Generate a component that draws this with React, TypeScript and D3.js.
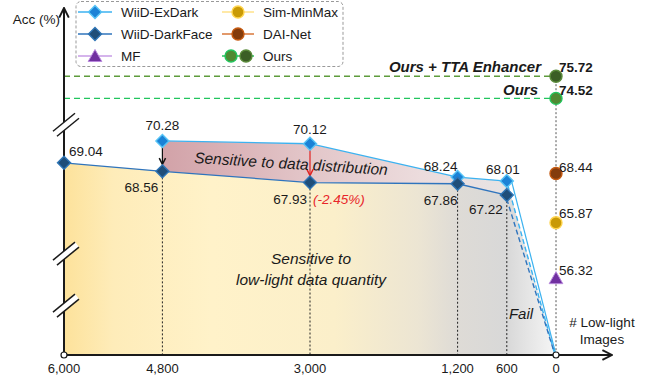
import React from 'react';
import * as d3 from 'd3';

// ---------- data ----------
const tickCounts = [6000, 4800, 3000, 1200, 600, 0];
const tickLabels = ['6,000', '4,800', '3,000', '1,200', '600', '0'];
const exDarkCounts = [4800, 3000, 1200, 600];
const exDarkAcc = [70.28, 70.12, 68.24, 68.01];
const darkFaceCounts = [6000, 4800, 3000, 1200, 600];
const darkFaceAcc = [69.04, 68.56, 67.93, 67.86, 67.22];
const failCount = 0;
const failAcc = 0;
const zeroCount = 0;
const baselineNames = ['Ours + TTA Enhancer', 'Ours', 'DAI-Net', 'Sim-MinMax', 'MF'];
const baselineAcc = [75.72, 74.52, 68.44, 65.87, 56.32];
const breakValues = [71.8, 60.3, 35.8];

// ---------- layout / style ----------
const W = 651;
const H = 381;
const FONT = '"Liberation Sans", Arial, sans-serif';
const x = d3.scaleLinear().domain([6000, 0]).range([64, 556]);
// broken (piece-wise) accuracy axis
const y = d3.scaleLinear()
  .domain([0, 56, 66, 67, 70.5, 74, 76])
  .range([355, 280, 222, 199, 137, 108, 71]);

const C = {
  exLine: '#3cb2f0', exFill: '#1b82d6', exStroke: '#57c4f6',
  dfLine: '#2f74bd', dfFill: '#1f4e79', dfStroke: '#2e75b6',
  mfFill: '#7030a0', mfStroke: '#b888dc', mfLine: '#c79be6',
  simFill: '#c99a06', simStroke: '#ffd54f', simLine: '#ffe28a',
  daiFill: '#843c0c', daiStroke: '#c55a11', daiLine: '#d9773a',
  oursFill: '#4f8a33', oursStroke: '#22c55e', oursLine: '#22c55e',
  ttaFill: '#3b5e25', ttaStroke: '#5a8a3a', ttaLine: '#5e9c3c',
};

const exLabel = [
  { a: 'middle', dx: 0, dy: -10.5 },
  { a: 'middle', dx: 0, dy: -10 },
  { a: 'end', dx: 0, dy: -6 },
  { a: 'middle', dx: -4, dy: -7 },
];
const dfLabel = [
  { a: 'start', dx: 5, dy: -7 },
  { a: 'end', dx: -4, dy: 20.5 },
  { a: 'end', dx: -3, dy: 21 },
  { a: 'end', dx: 0, dy: 21 },
  { a: 'end', dx: -4, dy: 19 },
];
const baseLabelDy = [-4.5, -3.5, -1, -5, -3.5];

const diamond = (s: number) => `M0,${-s}L${s},0L0,${s}L${-s},0Z`;
const triangle = (s: number) => `M0,${-s}L${s * 1.05},${s * 0.85}L${-s * 1.05},${s * 0.85}Z`;

const lineGen = d3.line<[number, number]>().x((d) => x(d[0])).y((d) => y(d[1]));

export default function App() {
  const ex: [number, number][] = exDarkCounts.map((c, i) => [c, exDarkAcc[i]]);
  const df: [number, number][] = darkFaceCounts.map((c, i) => [c, darkFaceAcc[i]]);
  const exLast = ex[ex.length - 1];
  const dfLast = df[df.length - 1];
  const failPt: [number, number] = [failCount, failAcc];

  // bottom area: under DarkFace line, through the "fail" drop
  const bottomPoly: [number, number][] = [...df, exLast, failPt, [6000, failAcc]];
  // pink area between ExDark and DarkFace
  const pinkPoly: [number, number][] = [...ex, ...df.filter((d) => d[0] <= 4800).reverse()];

  const xZero = x(zeroCount);
  const yBottom = y(0);
  const legendRows = [12, 34, 56];

  const txt = (extra: any = {}) => ({ fontFamily: FONT, fontSize: 13.5, fill: '#1a1a1a', ...extra });

  return (
    <svg width={W} height={H} style={{ position: 'absolute', left: 0, top: 0, background: '#fff' }}>
      <defs>
        <linearGradient id="gBottom" gradientUnits="userSpaceOnUse" x1={x(6000)} x2={x(0)} y1={0} y2={0}>
          <stop offset="0" stopColor="#fde29b" />
          <stop offset="0.1" stopColor="#feecb9" />
          <stop offset="0.3" stopColor="#fff2c9" />
          <stop offset="0.55" stopColor="#fbefca" />
          <stop offset="0.72" stopColor="#ece5d3" />
          <stop offset="0.8" stopColor="#dedbd6" />
          <stop offset="0.9" stopColor="#d8d8d8" />
          <stop offset="1" stopColor="#f6f6f6" />
        </linearGradient>
        <linearGradient id="gPink" gradientUnits="userSpaceOnUse" x1={x(4800)} x2={x(600)} y1={0} y2={0}>
          <stop offset="0" stopColor="#d2a2a8" />
          <stop offset="0.4" stopColor="#e2c4c7" />
          <stop offset="0.75" stopColor="#ecdcdd" />
          <stop offset="1" stopColor="#e6e3e3" />
        </linearGradient>
        <marker id="arrBlack" viewBox="0 0 8 8" refX="7" refY="4" markerWidth="7" markerHeight="7" orient="auto">
          <path d="M1,1L7,4L1,7" fill="none" stroke="#111" strokeWidth="1.4" />
        </marker>
        <marker id="arrRed" viewBox="0 0 8 8" refX="7" refY="4" markerWidth="7" markerHeight="7" orient="auto">
          <path d="M1,1L7,4L1,7" fill="none" stroke="#e02020" strokeWidth="1.4" />
        </marker>
        <marker id="axArrow" viewBox="0 0 10 10" refX="9" refY="5" markerWidth="6" markerHeight="6" orient="auto">
          <path d="M1,1L9,5L1,9" fill="none" stroke="#1a1a1a" strokeWidth="1.6" />
        </marker>
      </defs>

      {/* areas */}
      <path d={lineGen(bottomPoly) + 'Z'} fill="url(#gBottom)" stroke="none" />
      <path d={lineGen(pinkPoly) + 'Z'} fill="url(#gPink)" stroke="none" />

      {/* horizontal dashed lines for Ours */}
      <line x1={x(6000)} x2={xZero} y1={y(baselineAcc[0])} y2={y(baselineAcc[0])} stroke={C.ttaLine} strokeWidth={1.4} strokeDasharray="6,4" />
      <line x1={x(6000)} x2={xZero} y1={y(baselineAcc[1])} y2={y(baselineAcc[1])} stroke={C.oursLine} strokeWidth={1.4} strokeDasharray="6,4" />

      {/* vertical dotted guides */}
      {df.filter((d) => d[0] < 6000).map((d, i) => (
        <line key={'vg' + i} x1={x(d[0])} x2={x(d[0])} y1={y(d[1]) + 6} y2={yBottom} stroke="#222" strokeWidth={1} strokeDasharray="2,2" />
      ))}
      <line x1={xZero} x2={xZero} y1={y(baselineAcc[0])} y2={yBottom} stroke="#555" strokeWidth={1} strokeDasharray="2,2" />

      {/* axes */}
      <line x1={x(6000)} x2={x(6000)} y1={yBottom} y2={8} stroke="#1a1a1a" strokeWidth={2} markerEnd="url(#axArrow)" />
      <line x1={x(6000)} x2={612} y1={yBottom} y2={yBottom} stroke="#1a1a1a" strokeWidth={2} markerEnd="url(#axArrow)" />

      {/* axis breaks */}
      {breakValues.map((v, i) => {
        const cx = x(6000);
        const cy = y(v);
        return (
          <g key={'br' + i}>
            <path d={`M${cx - 11},${cy + 5}L${cx + 11},${cy - 13}L${cx + 15},${cy - 8}L${cx - 7},${cy + 10}Z`} fill="#fff" />
            <line x1={cx - 11} y1={cy + 5} x2={cx + 11} y2={cy - 13} stroke="#1a1a1a" strokeWidth={1.5} />
            <line x1={cx - 7} y1={cy + 10} x2={cx + 15} y2={cy - 8} stroke="#1a1a1a" strokeWidth={1.5} />
          </g>
        );
      })}

      {/* fail lines */}
      <line x1={x(exLast[0]) + 5} y1={y(exLast[1]) + 1} x2={x(failPt[0])} y2={y(failPt[1])} stroke={C.exLine} strokeWidth={1.2} />
      <line x1={x(exLast[0]) + 1} y1={y(exLast[1]) + 4} x2={x(failPt[0]) - 1} y2={y(failPt[1])} stroke={C.exLine} strokeWidth={1.4} strokeDasharray="5,3" />
      <line x1={x(dfLast[0])} y1={y(dfLast[1]) + 4} x2={x(failPt[0]) - 1} y2={y(failPt[1])} stroke={C.dfLine} strokeWidth={1.4} strokeDasharray="5,3" />

      {/* series lines */}
      <path d={lineGen(ex) || ''} fill="none" stroke={C.exLine} strokeWidth={1.3} />
      <path d={lineGen(df) || ''} fill="none" stroke={C.dfLine} strokeWidth={1.3} />

      {/* arrows */}
      <line x1={x(4800)} x2={x(4800)} y1={y(exDarkAcc[0]) + 6} y2={y(darkFaceAcc[1]) - 7} stroke="#111" strokeWidth={1.2} markerEnd="url(#arrBlack)" />
      <line x1={x(3000)} x2={x(3000)} y1={y(exDarkAcc[1]) + 6} y2={y(darkFaceAcc[2]) - 7} stroke="#e02020" strokeWidth={1.2} markerEnd="url(#arrRed)" />

      {/* tick circles */}
      {[6000, 0].map((c) => (
        <circle key={'tc' + c} cx={x(c)} cy={yBottom} r={3} fill="#fff" stroke="#1a1a1a" strokeWidth={1.2} />
      ))}

      {/* markers */}
      {ex.map((d, i) => (
        <path key={'exm' + i} d={diamond(6.5)} transform={`translate(${x(d[0])},${y(d[1])})`} fill={C.exFill} stroke={C.exStroke} strokeWidth={1.4} />
      ))}
      {df.map((d, i) => (
        <path key={'dfm' + i} d={diamond(6.5)} transform={`translate(${x(d[0])},${y(d[1])})`} fill={C.dfFill} stroke={C.dfStroke} strokeWidth={1.4} />
      ))}
      <circle cx={xZero} cy={y(baselineAcc[0])} r={6} fill={C.ttaFill} stroke={C.ttaStroke} strokeWidth={1.4} />
      <circle cx={xZero} cy={y(baselineAcc[1])} r={6} fill={C.oursFill} stroke={C.oursStroke} strokeWidth={1.4} />
      <circle cx={xZero} cy={y(baselineAcc[2])} r={6} fill={C.daiFill} stroke={C.daiStroke} strokeWidth={1.4} />
      <circle cx={xZero} cy={y(baselineAcc[3])} r={6} fill={C.simFill} stroke={C.simStroke} strokeWidth={1.4} />
      <path d={triangle(6.5)} transform={`translate(${xZero},${y(baselineAcc[4])})`} fill={C.mfFill} stroke={C.mfStroke} strokeWidth={1} />

      {/* value labels */}
      {ex.map((d, i) => (
        <text key={'exl' + i} x={x(d[0]) + exLabel[i].dx} y={y(d[1]) + exLabel[i].dy} textAnchor={exLabel[i].a as any} {...txt()}>
          {d[1].toFixed(2)}
        </text>
      ))}
      {df.map((d, i) => (
        <text key={'dfl' + i} x={x(d[0]) + dfLabel[i].dx} y={y(d[1]) + dfLabel[i].dy} textAnchor={dfLabel[i].a as any} {...txt()}>
          {d[1].toFixed(2)}
        </text>
      ))}
      <text x={x(3000) + 3} y={y(darkFaceAcc[2]) + 21} {...txt({ fill: '#e8262a', fontStyle: 'italic' })}>(-2.45%)</text>
      {baselineAcc.map((v, i) => (
        <text key={'bl' + i} x={xZero + 3} y={y(v) + baseLabelDy[i]} {...txt({ fontWeight: i < 2 ? 'bold' : 'normal' })}>
          {v.toFixed(2)}
        </text>
      ))}
      <text x={541} y={y(baselineAcc[0]) - 4} textAnchor="end" {...txt({ fontSize: 15, fontWeight: 'bold', fontStyle: 'italic' })}>{baselineNames[0]}</text>
      <text x={538} y={y(baselineAcc[1]) - 3.5} textAnchor="end" {...txt({ fontSize: 15, fontWeight: 'bold', fontStyle: 'italic' })}>{baselineNames[1]}</text>

      {/* annotations */}
      <text x={291} y={169} textAnchor="middle" transform="rotate(3.6,291,164)" {...txt({ fontSize: 15.5, fontStyle: 'italic' })}>Sensitive to data distribution</text>
      <text x={311} y={264} textAnchor="middle" {...txt({ fontSize: 15.5, fontStyle: 'italic' })}>Sensitive to</text>
      <text x={311} y={285} textAnchor="middle" {...txt({ fontSize: 15.5, fontStyle: 'italic' })}>low-light data quantity</text>
      <text x={521} y={319} textAnchor="middle" {...txt({ fontSize: 15, fontStyle: 'italic' })}>Fail</text>

      {/* axis labels */}
      {tickCounts.map((c, i) => (
        <text key={'tl' + i} x={x(c)} y={373} textAnchor="middle" {...txt({ fontSize: 13 })}>{tickLabels[i]}</text>
      ))}
      <text x={602} y={327} textAnchor="middle" {...txt()}># Low-light</text>
      <text x={602} y={344} textAnchor="middle" {...txt()}>Images</text>
      <text x={60} y={24} textAnchor="end" {...txt()}>Acc (%)</text>

      {/* legend */}
      <rect x={76} y={1.5} width={267} height={65} rx={5} fill="#fff" stroke="#999" strokeWidth={1} strokeDasharray="3,2" />
      {/* col 1 */}
      <line x1={78} x2={112} y1={legendRows[0]} y2={legendRows[0]} stroke={C.exLine} strokeWidth={1.5} />
      <path d={diamond(6.5)} transform={`translate(95,${legendRows[0]})`} fill={C.exFill} stroke={C.exStroke} strokeWidth={1.4} />
      <text x={121} y={legendRows[0] + 5} {...txt()}>WiiD-ExDark</text>
      <line x1={78} x2={112} y1={legendRows[1]} y2={legendRows[1]} stroke={C.dfLine} strokeWidth={1.5} />
      <path d={diamond(6.5)} transform={`translate(95,${legendRows[1]})`} fill={C.dfFill} stroke={C.dfStroke} strokeWidth={1.4} />
      <text x={121} y={legendRows[1] + 5} {...txt()}>WiiD-DarkFace</text>
      <line x1={78} x2={112} y1={legendRows[2]} y2={legendRows[2]} stroke={C.mfLine} strokeWidth={1.5} />
      <path d={triangle(6.5)} transform={`translate(95,${legendRows[2]})`} fill={C.mfFill} stroke={C.mfStroke} strokeWidth={1} />
      <text x={121} y={legendRows[2] + 5} {...txt()}>MF</text>
      {/* col 2 */}
      <line x1={222} x2={254} y1={legendRows[0]} y2={legendRows[0]} stroke={C.simLine} strokeWidth={1.5} />
      <circle cx={238} cy={legendRows[0]} r={6} fill={C.simFill} stroke={C.simStroke} strokeWidth={1.4} />
      <text x={263} y={legendRows[0] + 5} {...txt()}>Sim-MinMax</text>
      <line x1={222} x2={254} y1={legendRows[1]} y2={legendRows[1]} stroke={C.daiLine} strokeWidth={1.5} />
      <circle cx={238} cy={legendRows[1]} r={6} fill={C.daiFill} stroke={C.daiStroke} strokeWidth={1.4} />
      <text x={263} y={legendRows[1] + 5} {...txt()}>DAI-Net</text>
      <line x1={222} x2={254} y1={legendRows[2]} y2={legendRows[2]} stroke={C.oursLine} strokeWidth={1.5} />
      <circle cx={231} cy={legendRows[2]} r={6} fill={C.oursFill} stroke={C.oursStroke} strokeWidth={1.4} />
      <circle cx={246} cy={legendRows[2]} r={6} fill={C.ttaFill} stroke={C.ttaStroke} strokeWidth={1.4} />
      <text x={263} y={legendRows[2] + 5} {...txt()}>Ours</text>
    </svg>
  );
}
